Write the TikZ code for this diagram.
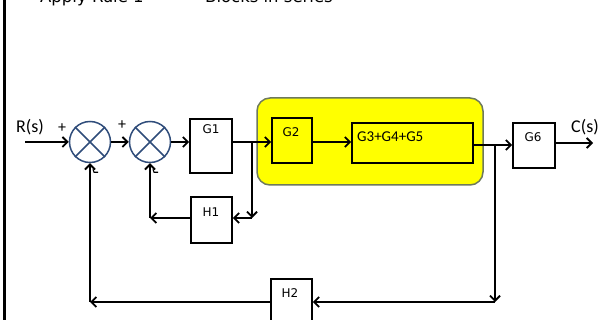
\documentclass[tikz,border=0pt]{standalone}
\usepackage{fontspec}
\setmainfont{DejaVu Sans}
\newfontfamily\calib{Carlito}
\usetikzlibrary{arrows.meta,calc}
\definecolor{sumblue}{RGB}{47,76,122}
\definecolor{hiyel}{RGB}{255,255,0}
\definecolor{hiedge}{RGB}{110,122,92}
\tikzset{
  ln/.style={line width=1.9pt, black},
  arr/.style={ln, -{Straight Barb[length=5pt,width=10pt,line width=1.8pt]}},
  blk/.style={draw, line width=1.9pt, rectangle, inner sep=0pt, fill=white},
  sumnode/.style={draw=sumblue, line width=1.5pt, circle, minimum size=41pt, inner sep=0pt},
  lbl/.style={font=\fontsize{12}{14}\selectfont, inner sep=0pt},
  sig/.style={font=\calib\fontsize{18}{20}\selectfont, inner sep=0pt},
  ttl/.style={font=\fontsize{16.5}{19}\selectfont, inner sep=0pt, anchor=base west}
}
\begin{document}
\begin{tikzpicture}[x=1pt,y=-1pt]
\useasboundingbox (0,0) rectangle (605,320);
\clip (0,0) rectangle (605,320);
% left border
\draw[line width=2.5pt] (4.5,-5) -- (4.5,325);
% title
\node[ttl] (t1) at (40,3) {Apply Rule 1};
\node[ttl] (t2) at (205,3) {Blocks in series};
% highlight
\node[draw=hiedge, fill=hiyel, line width=1.5pt, rounded corners=13pt, minimum width=226pt, minimum height=87pt, inner sep=0pt] (hl) at (370,141.5) {};
% summing junctions
\node[sumnode] (s1) at (90,142) {};
\node[sumnode] (s2) at (150,142) {};
\foreach \s in {s1,s2}{
  \draw[sumblue, line width=1.5pt] (\s.north west) -- (\s.south east) (\s.north east) -- (\s.south west);
}
% blocks
\node[blk, minimum width=42pt, minimum height=54pt] (G1) at (211,146) {};
\node[blk, minimum width=41pt, minimum height=46pt] (H1) at (211.5,220) {};
\node[blk, minimum width=40pt, minimum height=45pt, fill=hiyel] (G2) at (292,140.5) {};
\node[blk, minimum width=121pt, minimum height=40pt, fill=hiyel] (G345) at (412.5,143) {};
\node[blk, minimum width=42pt, minimum height=45pt] (G6) at (534,145.5) {};
\node[blk, minimum width=41pt, minimum height=51pt] (H2) at (291.5,304.5) {};
% labels
\node[lbl] (lG1) at (211,129) {G1};
\node[lbl] (lH1) at (211,212) {H1};
\node[lbl] (lG2) at (291,132) {G2};
\node[lbl, font=\calib\fontsize{15}{17}\selectfont, anchor=west] (lG345) at (357,137) {G3+G4+G5};
\node[lbl] (lG6) at (533,137) {G6};
\node[lbl] (lH2) at (290,293) {H2};
\node[sig] (R) at (30,127) {R(s)};
\node[sig] (C) at (585,127) {C(s)};
\node[sig, font=\calib\fontsize{16}{18}\selectfont] (p1) at (62,128) {+};
\node[sig, font=\calib\fontsize{16}{18}\selectfont] (p2) at (122,125) {+};
% coordinates
\coordinate (rin) at (25,142);
\coordinate (b1) at (252,142);
\coordinate (b1d) at (252,218);
\coordinate (c1) at (150,218);
\coordinate (b2) at (495,145);
\coordinate (b2d) at (495,302);
\coordinate (c2) at (90,302);
\coordinate (cout) at (593,143);
% forward path
\draw[arr] (rin) -- (s1.west);
\draw[arr] (s1.east) -- (s2.west);
\draw[arr] (s2.east) -- (s2.east -| G1.west);
\draw[ln] (G1.east |- b1) -- (b1);
\draw[arr] (b1) -- (b1 -| G2.west);
\draw[arr] (G2.east |- b1) -- (b1 -| G345.west);
\draw[ln] (G345.east |- b2) -- (b2);
\draw[arr] (b2) -- (b2 -| G6.west);
\draw[arr] (G6.east |- cout) -- (cout);
% inner feedback
\draw[arr] (b1) -- (b1d);
\draw[arr] (b1d) -- (b1d -| H1.east);
\draw[arr] (b1d -| H1.west) -- (c1);
\draw[arr] (c1) -- (s2.south);
% outer feedback
\draw[arr] (b2) -- (b2d);
\draw[arr] (b2d) -- (b2d -| H2.east);
\draw[arr] (b2d -| H2.west) -- (c2);
\draw[arr] (c2) -- (s1.south);
% minus marks
\foreach \s in {s1,s2}{
  \draw[line width=1.1pt] ($(\s.south)+(3,6)$) -- ($(\s.south)+(4,9)$) -- ($(\s.south)+(8,9)$);
}
\end{tikzpicture}
\end{document}
